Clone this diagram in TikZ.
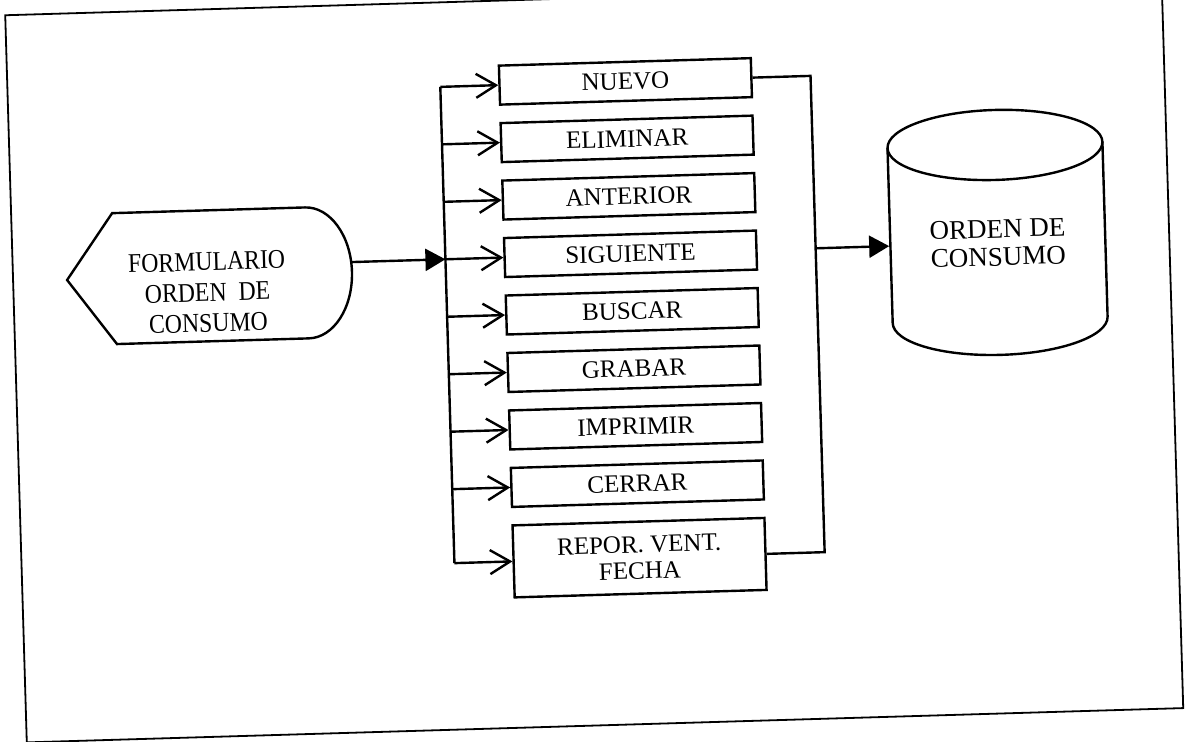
\documentclass[tikz,border=0pt]{standalone}
\usepackage{fontspec}
\setmainfont{Liberation Serif}
\newfontfamily\tallfont[FakeStretch=0.88]{Liberation Serif}
\usetikzlibrary{arrows.meta}

\begin{document}
\begin{tikzpicture}[x=0.5pt,y=-0.5pt,line width=1.2pt,
  btn/.style={rectangle,draw,minimum width=126pt,minimum height=19.5pt,inner sep=0pt,font=\fontsize{12.5}{13}\selectfont},
  ar/.style={-{Straight Barb[length=10pt,width=12pt]}},
  fa/.style={-{Triangle[length=10pt,width=11pt]}}]
 \useasboundingbox (0,0) rectangle (1185,742);
 \begin{scope}[rotate around={1.7:(592,371)},transform shape]
 % marco
 \draw[line width=0.9pt] (16,-2) rectangle (1173,725.5);
 % pantalla del formulario
 \draw (70,264.5) -- (117,199) -- (310,199) arc[start angle=-90,end angle=90,x radius=45,y radius=65.5] -- (118,330) -- cycle;
 \node[font=\tallfont\fontsize{13.5}{15.3}\selectfont,align=center] (form) at (210,281) {FORMULARIO\\ORDEN\ \ DE\\CONSUMO};
 \coordinate (formE) at (354,255);
 % botones
 \node[btn] (b1) at (634,82.5) {NUEVO};
 \node[btn] (b2) at (634,140) {ELIMINAR};
 \node[btn] (b3) at (634,197.5) {ANTERIOR};
 \node[btn] (b4) at (634,255) {SIGUIENTE};
 \node[btn] (b5) at (634,312.5) {BUSCAR};
 \node[btn] (b6) at (634,370) {GRABAR};
 \node[btn] (b7) at (634,427.5) {IMPRIMIR};
 \node[btn] (b8) at (634,485) {CERRAR};
 \node[btn,minimum height=36pt,align=center] (b9) at (634,559) {REPOR. VENT.\\FECHA};
 % base de datos
 \draw (894,157) -- (894,332) arc[start angle=180,end angle=0,x radius=107.5,y radius=35] -- (1109,157);
 \draw (1001.5,157) ellipse[x radius=107.5,y radius=35];
 \node[minimum width=107.5pt,minimum height=40pt,inner sep=0pt,align=center,font=\fontsize{13.5}{14}\selectfont] (db) at (1001.5,255) {ORDEN DE\\CONSUMO};
 % conexiones
 \draw[fa] (formE) -- ([xshift=-29pt]b4.west);
 \draw ([xshift=-29pt]b1.west) -- ([xshift=-29pt]b9.west);
 \draw[ar] ([xshift=-29pt]b1.west) -- (b1.west);
 \draw[ar] ([xshift=-29pt]b2.west) -- (b2.west);
 \draw[ar] ([xshift=-29pt]b3.west) -- (b3.west);
 \draw[ar] ([xshift=-29pt]b4.west) -- (b4.west);
 \draw[ar] ([xshift=-29pt]b5.west) -- (b5.west);
 \draw[ar] ([xshift=-29pt]b6.west) -- (b6.west);
 \draw[ar] ([xshift=-29pt]b7.west) -- (b7.west);
 \draw[ar] ([xshift=-29pt]b8.west) -- (b8.west);
 \draw[ar] ([xshift=-29pt]b9.west) -- (b9.west);
 \draw (b1.east) -- ([xshift=29pt]b1.east) -- ([xshift=29pt]b9.east) -- (b9.east);
 \draw[fa] ([xshift=29pt]b4.east) -- (db.west);
 \end{scope}
\end{tikzpicture}
\end{document}
